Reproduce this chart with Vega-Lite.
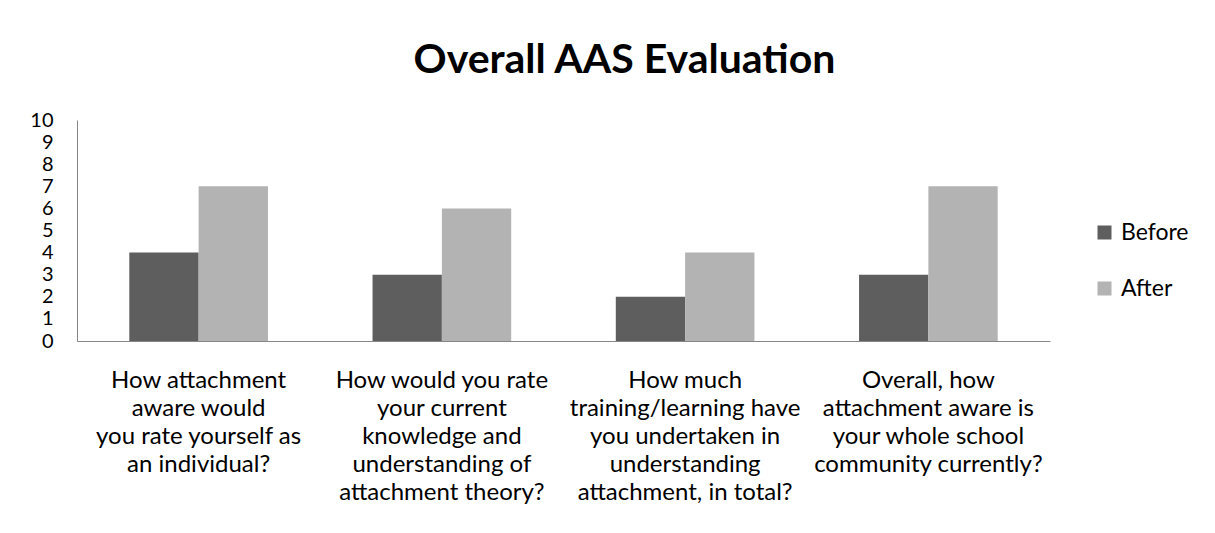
{
  "$schema": "https://vega.github.io/schema/vega-lite/v6.json",
  "width": 973,
  "height": 221,
  "autosize": {"type": "none"},
  "padding": {"left": 77, "top": 120, "right": 165, "bottom": 192},
  "background": "white",
  "title": {
    "text": "Overall AAS Evaluation",
    "font": "Lato",
    "fontSize": 41,
    "fontWeight": "bold",
    "color": "#000000",
    "anchor": "middle",
    "offset": 28,
    "dx": 61
  },
  "data": {
    "values": [
      {"question": "How attachment aware would you rate yourself as an individual?", "when": "Before", "score": 4},
      {"question": "How attachment aware would you rate yourself as an individual?", "when": "After", "score": 7},
      {"question": "How would you rate your current knowledge and understanding of attachment theory?", "when": "Before", "score": 3},
      {"question": "How would you rate your current knowledge and understanding of attachment theory?", "when": "After", "score": 6},
      {"question": "How much training/learning have you undertaken in understanding attachment, in total?", "when": "Before", "score": 2},
      {"question": "How much training/learning have you undertaken in understanding attachment, in total?", "when": "After", "score": 4},
      {"question": "Overall, how attachment aware is your whole school community currently?", "when": "Before", "score": 3},
      {"question": "Overall, how attachment aware is your whole school community currently?", "when": "After", "score": 7}
    ]
  },
  "mark": {"type": "bar"},
  "encoding": {
    "x": {
      "field": "question",
      "type": "nominal",
      "sort": null,
      "scale": {"paddingInner": 0.43, "paddingOuter": 0.215},
      "axis": {
        "title": null,
        "labelAngle": 0,
        "labelFont": "Lato",
        "labelFontSize": 24,
        "labelColor": "#000000",
        "labelLineHeight": 28,
        "labelPadding": 27,
        "labelLimit": 300,
        "ticks": false,
        "domainColor": "#868686",
        "domainWidth": 1,
        "labelExpr": "indexof(datum.value, 'How attachment') == 0 ? ['How attachment', 'aware would', 'you rate yourself as', 'an individual?'] : indexof(datum.value, 'How would') == 0 ? ['How would you rate', 'your current', 'knowledge and', 'understanding of', 'attachment theory?'] : indexof(datum.value, 'How much') == 0 ? ['How much', 'training/learning have', 'you undertaken in', 'understanding', 'attachment, in total?'] : ['Overall, how', 'attachment aware is', 'your whole school', 'community currently?']"
      }
    },
    "xOffset": {"field": "when", "type": "nominal", "sort": ["Before", "After"]},
    "y": {
      "field": "score",
      "type": "quantitative",
      "scale": {"domain": [0, 10], "nice": false},
      "axis": {
        "title": null,
        "values": [0, 1, 2, 3, 4, 5, 6, 7, 8, 9, 10],
        "grid": false,
        "ticks": false,
        "labelFont": "Lato",
        "labelFontSize": 20,
        "labelColor": "#000000",
        "labelPadding": 24,
        "labelOverlap": false,
        "domainColor": "#868686",
        "domainWidth": 1
      }
    },
    "color": {
      "field": "when",
      "type": "nominal",
      "scale": {"domain": ["Before", "After"], "range": ["#5E5E5E", "#B3B3B3"]},
      "legend": {
        "title": null,
        "orient": "none",
        "legendX": 1016,
        "legendY": 101,
        "symbolType": "square",
        "symbolSize": 196,
        "symbolStrokeWidth": 0,
        "labelFont": "Lato",
        "labelFontSize": 23,
        "labelColor": "#000000",
        "rowPadding": 32,
        "labelOffset": 5
      }
    }
  },
  "config": {"view": {"stroke": null}}
}
